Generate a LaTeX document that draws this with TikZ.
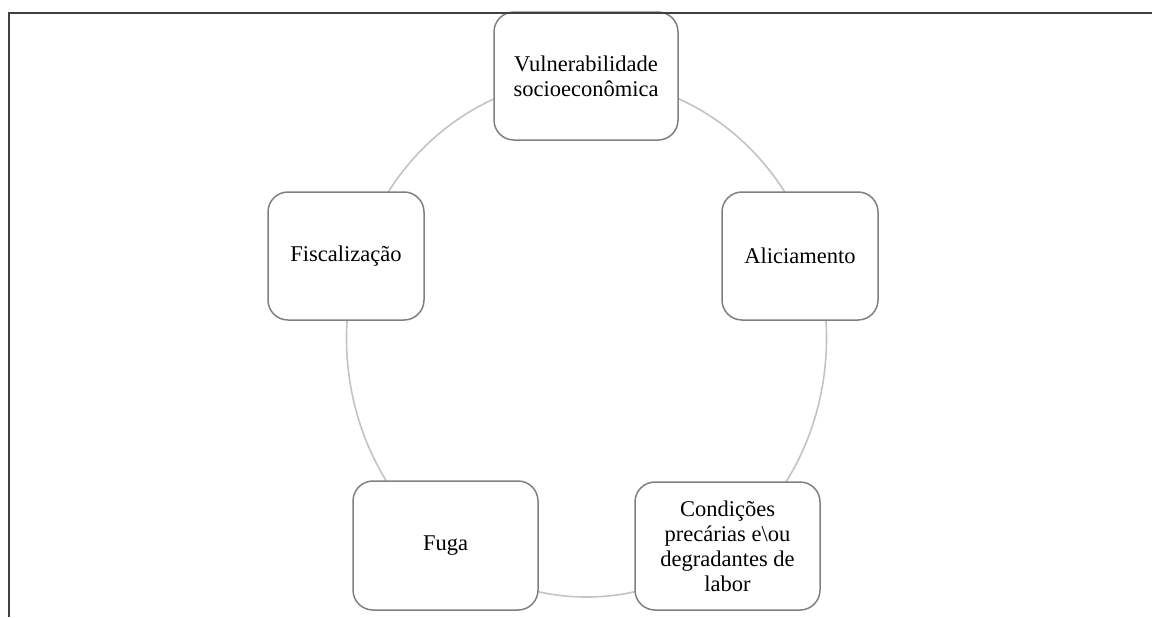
\documentclass[tikz,border=0pt]{standalone}
\usepackage{fontspec}
\setmainfont{Liberation Serif}
\definecolor{boxgray}{RGB}{128,128,128}
\definecolor{ringgray}{RGB}{195,195,195}
\definecolor{framegray}{RGB}{64,64,64}
\begin{document}
\begin{tikzpicture}[x=0.5pt,y=-0.5pt,
  box/.style={draw=boxgray, line width=0.75pt, rounded corners=10pt, fill=white,
    align=center, font=\fontsize{11.25}{12.5}\selectfont, inner sep=2pt},
  ring/.style={draw=ringgray, line width=0.8pt},
  frame/.style={draw=framegray, line width=1pt}]
\useasboundingbox (0,0) rectangle (1152,617);
\draw[ring] (586.5,338) ellipse [x radius=120pt, y radius=129.5pt];
\node[box, minimum width=92pt, minimum height=64pt] (v) at (586,76) {Vulnerabilidade\\socioeconômica};
\node[box, minimum width=78pt, minimum height=64pt] (a) at (800,256) {Aliciamento};
\node[box, minimum width=92.5pt, minimum height=64pt] (c) at (727.5,546) {Condições\\precárias e\textbackslash ou\\degradantes de\\labor};
\node[box, minimum width=92.5pt, minimum height=64.5pt] (g) at (445.5,545.5) {Fuga};
\node[box, minimum width=78pt, minimum height=64pt] (f) at (346,256) {Fiscalização};
\coordinate (tr) at (1152,12.5);
\coordinate (tl) at (9,12.5);
\coordinate (bl) at (9,617);
\draw[frame] (tr) -- (tl) -- (bl);
\end{tikzpicture}
\end{document}
